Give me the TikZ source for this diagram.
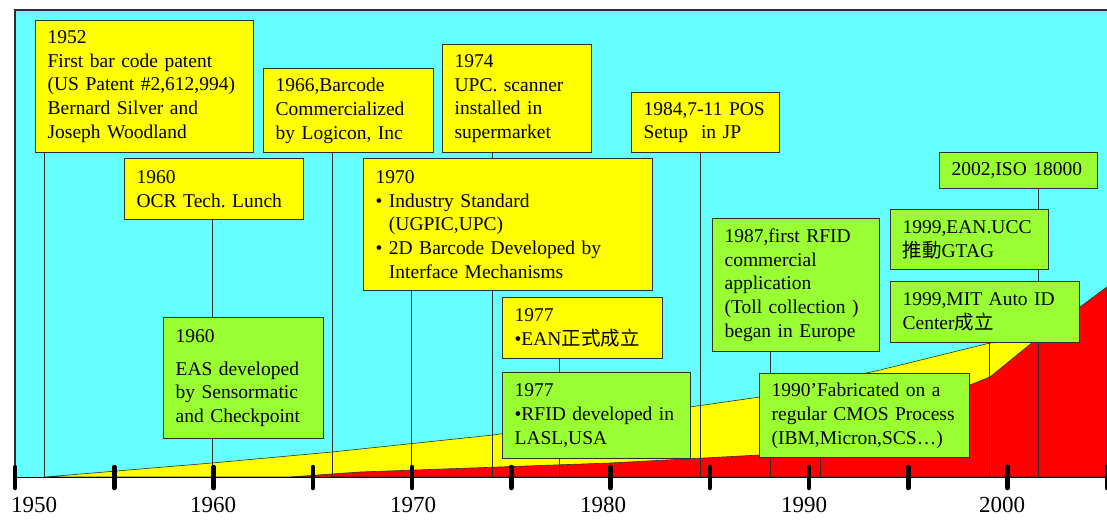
\documentclass[tikz,border=0pt]{standalone}
\usepackage{fontspec}
\setmainfont{Liberation Serif}
\newfontfamily\cjk{Noto Sans CJK TC}
\usetikzlibrary{positioning}
\definecolor{skycyan}{RGB}{102,255,255}
\definecolor{noteyellow}{RGB}{255,255,0}
\definecolor{notegreen}{RGB}{153,255,51}
\definecolor{rfidred}{RGB}{255,0,0}
\definecolor{edgegray}{RGB}{40,48,48}
\frenchspacing

\begin{document}
\begin{tikzpicture}[x=1pt, y=-1pt, every node/.style={font=\fontsize{19.5}{23.8}\selectfont},
    note/.style={draw=edgegray, line width=1.2pt, anchor=north west, align=left, inner xsep=12pt, inner ysep=2pt},
    ynote/.style={note, fill=noteyellow},
    gnote/.style={note, fill=notegreen},
    stem/.style={draw=edgegray, line width=0.8pt},
    yearlbl/.style={font=\fontsize{23}{28}\selectfont, inner sep=0pt}]
        \useasboundingbox (0,0) rectangle (1107,519);
        \fill[skycyan] (15,10) rectangle (1107,477);
        \draw[edgegray, line width=1.5pt] (15,477) -- (15,10) -- (1107,10);
        \filldraw[fill=noteyellow, draw=edgegray, line width=0.6pt] (45,477) -- (212,463) -- (332,452) -- (493,435)
          -- (690,407) -- (760,397) -- (880,370) -- (990,343) -- (1035,340) -- (1035,477) -- cycle;
        \filldraw[fill=rfidred, draw=edgegray, line width=0.6pt] (290,477) -- (360,472) -- (610,463) -- (760,455)
          -- (970,385) -- (990,377) -- (1033,342) -- (1107,287) -- (1107,477) -- cycle;
        \draw[black, line width=1pt] (15,477) -- (1107,477);

        \foreach \yr/\px in {1952/44, 1960/212, 1966/332, 1970/411, 1974/492, 1977/559,
                             1984/700, 1987/770, 1990/820, 1999/989, 2002/1038} {
          \coordinate (t\yr) at (\px,477);
        }

        \node[ynote, text width=194pt, minimum height=132pt] (n1952) at (35,20)
          {1952\\First bar code patent\\(US Patent \#2,612,994)\\Bernard Silver and\\Joseph Woodland};
        \node[ynote, text width=146pt, minimum height=84pt] (n1966) at (263,68)
          {1966,Barcode\\Commercialized\\by Logicon, Inc};
        \node[ynote, text width=155pt, minimum height=61pt] (nOCR) at (124,158)
          {1960\\OCR Tech. Lunch};
        \node[ynote, text width=125pt, minimum height=108pt] (n1974) at (442,44)
          {1974\\UPC. scanner\\installed in\\supermarket};
        \node[ynote, text width=124pt, minimum height=60pt] (n1984) at (631,92)
          {1984,7-11 POS\\Setup\ \ in JP};
        \node[ynote, text width=265pt, minimum height=132pt] (n1970) at (363,158)
          {1970\\\textbullet\ Industry Standard\\\hphantom{\textbullet\ }(UGPIC,UPC)\\\textbullet\ 2D Barcode Developed by\\\hphantom{\textbullet\ }Interface Mechanisms};
        \node[gnote, text width=136pt, minimum height=121pt] (nEAS) at (163,317)
          {1960\\[9pt]EAS developed\\by Sensormatic\\and Checkpoint};
        \node[ynote, text width=136pt, minimum height=61pt] (nEAN) at (502,297)
          {1977\\\textbullet EAN{\cjk 正式成立}};
        \node[gnote, text width=164pt, minimum height=86pt] (nRFID) at (502,372)
          {1977\\\textbullet RFID developed in\\LASL,USA};
        \node[gnote, text width=143pt, minimum height=133pt] (n1987) at (712,218)
          {1987,first RFID\\commercial\\application\\(Toll collection )\\began in Europe};
        \node[gnote, text width=134pt, minimum height=36pt] (nISO) at (939,152)
          {2002,ISO 18000};
        \node[gnote, text width=134pt, minimum height=60pt] (nUCC) at (890,209)
          {1999,EAN.UCC\\{\cjk 推動}GTAG};
        \node[gnote, text width=165pt, minimum height=61pt] (nMIT) at (890,281)
          {1999,MIT Auto ID\\Center{\cjk 成立}};
        \node[gnote, text width=186pt, minimum height=84pt] (n1990) at (759,373)
          {1990’Fabricated on a\\regular CMOS Process\\(IBM,Micron,SCS…)};

        \draw[stem] (t1952) -- (t1952 |- n1952.south);
        \draw[stem] (t1960 |- nOCR.south) -- (t1960 |- nEAS.north) (t1960 |- nEAS.south) -- (t1960);
        \draw[stem] (t1966) -- (t1966 |- n1966.south);
        \draw[stem] (t1970) -- (t1970 |- n1970.south);
        \draw[stem] (t1974 |- n1974.south) -- (t1974 |- n1970.north) (t1974 |- n1970.south) -- (t1974);
        \draw[stem] (t1977 |- nEAN.south) -- (t1977 |- nRFID.north) (t1977 |- nRFID.south) -- (t1977);
        \draw[stem] (t1984) -- (t1984 |- n1984.south);
        \draw[stem] (t1987 |- n1987.south) -- (t1987 |- n1990.north) (t1987 |- n1990.south) -- (t1987);
        \draw[stem] (t1990) -- (t1990 |- n1990.south);
        \draw[stem] (t1999) -- (t1999 |- nMIT.south);
        \draw[stem] (t2002 |- nISO.south) -- (t2002 |- nUCC.north) (t2002 |- nUCC.south) -- (t2002 |- nMIT.north)
          (t2002 |- nMIT.south) -- (t2002);

        \foreach \k in {0,...,11} {
          \draw[black, line width=4.5pt, line cap=round] (15+\k*99.25,467) -- (15+\k*99.25,488);
        }
        \foreach \yr/\px in {1950/34, 1960/213, 1970/413, 1980/603, 1990/804, 2000/1002} {
          \node[yearlbl] (l\yr) at (\px,505) {\yr};
        }
      \end{tikzpicture}
\end{document}
